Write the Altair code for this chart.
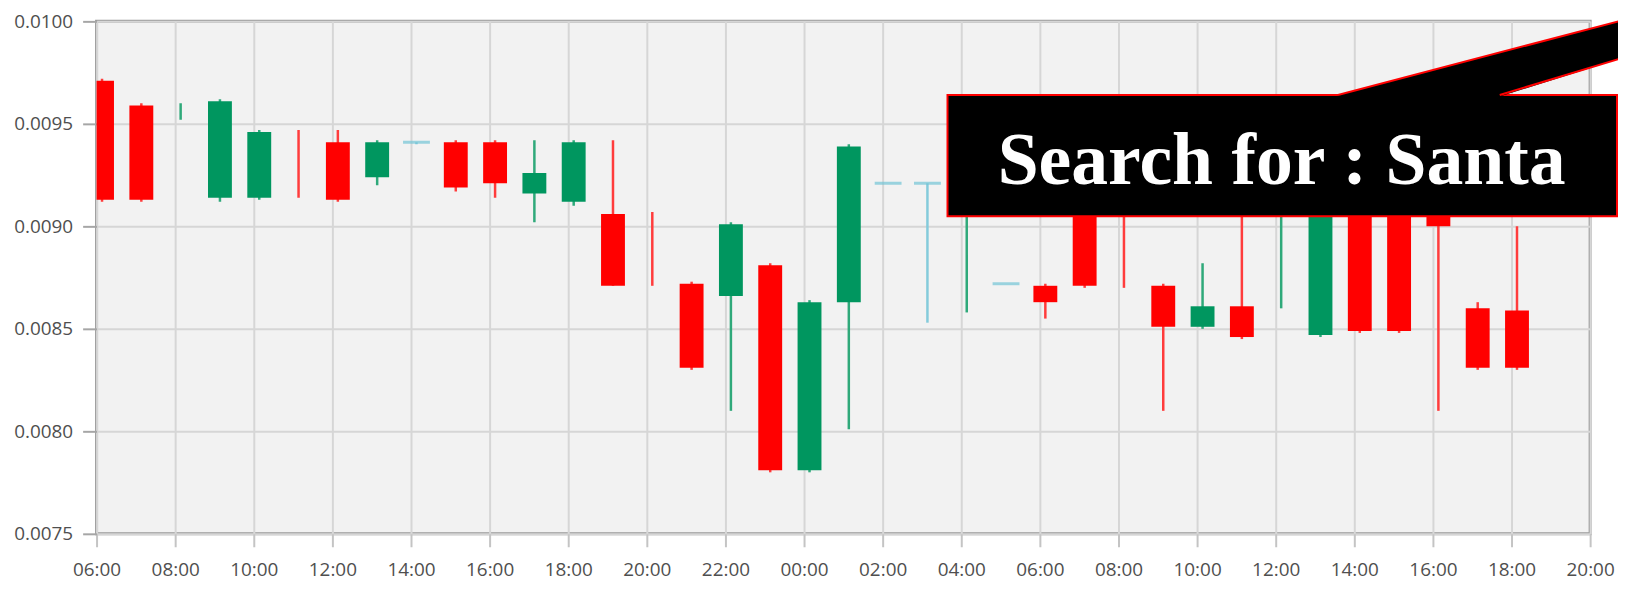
import altair as alt
import pandas as pd

# ---- candle data (hourly) ----
times = [
    "2023-12-24T06:00", "2023-12-24T07:00", "2023-12-24T08:00", "2023-12-24T09:00",
    "2023-12-24T10:00", "2023-12-24T11:00", "2023-12-24T12:00", "2023-12-24T13:00",
    "2023-12-24T14:00", "2023-12-24T15:00", "2023-12-24T16:00", "2023-12-24T17:00",
    "2023-12-24T18:00", "2023-12-24T19:00", "2023-12-24T20:00", "2023-12-24T21:00",
    "2023-12-24T22:00", "2023-12-24T23:00", "2023-12-25T00:00", "2023-12-25T01:00",
    "2023-12-25T02:00", "2023-12-25T03:00", "2023-12-25T04:00", "2023-12-25T05:00",
    "2023-12-25T06:00", "2023-12-25T07:00", "2023-12-25T08:00", "2023-12-25T09:00",
    "2023-12-25T10:00", "2023-12-25T11:00", "2023-12-25T12:00", "2023-12-25T13:00",
    "2023-12-25T14:00", "2023-12-25T15:00", "2023-12-25T16:00", "2023-12-25T17:00",
    "2023-12-25T18:00",
]
opens = [
    0.00971, 0.00959, 0.009559, 0.00914, 0.00914, 0.009300, 0.00941, 0.00924,
    0.00941, 0.00941, 0.00941, 0.00916, 0.00912, 0.00906, 0.008900, 0.00872,
    0.00866, 0.00881, 0.00781, 0.00863, 0.00921, 0.00921, 0.009200, 0.00872,
    0.00871, 0.00925, 0.00915, 0.00871, 0.00851, 0.00861, 0.00905, 0.00847,
    0.00930, 0.00925, 0.00920, 0.00860, 0.00859,
]
highs = [
    0.00972, 0.00960, 0.00960, 0.00962, 0.00947, 0.00947, 0.00947, 0.00942,
    0.00941, 0.00942, 0.00942, 0.00942, 0.00942, 0.00942, 0.00907, 0.00873,
    0.00902, 0.00882, 0.00864, 0.00940, 0.00921, 0.00921, 0.00925, 0.00872,
    0.00872, 0.00930, 0.00925, 0.00872, 0.00882, 0.00915, 0.00920, 0.00940,
    0.00935, 0.00930, 0.00930, 0.00863, 0.00900,
]
lows = [
    0.00912, 0.00912, 0.00952, 0.00912, 0.00913, 0.00914, 0.00912, 0.00920,
    0.00940, 0.00917, 0.00914, 0.00902, 0.00910, 0.00871, 0.00871, 0.00830,
    0.00810, 0.00780, 0.00780, 0.00801, 0.00921, 0.00853, 0.00858, 0.00872,
    0.00855, 0.00870, 0.00870, 0.00810, 0.00850, 0.00845, 0.00860, 0.00846,
    0.00848, 0.00848, 0.00810, 0.00830, 0.00830,
]
closes = [
    0.00913, 0.00913, 0.009560, 0.00961, 0.00946, 0.009299, 0.00913, 0.00941,
    0.00941, 0.00919, 0.00921, 0.00926, 0.00941, 0.00871, 0.008899, 0.00831,
    0.00901, 0.00781, 0.00863, 0.00939, 0.00921, 0.00921, 0.009201, 0.00872,
    0.00863, 0.00871, 0.00905, 0.00851, 0.00861, 0.00846, 0.00915, 0.00935,
    0.00849, 0.00849, 0.00900, 0.00831, 0.00831,
]
y_ticks = [0.0075, 0.0080, 0.0085, 0.0090, 0.0095, 0.0100]
# x tick positions (day of month, hour)
x_ticks = [
    (24, 6), (24, 8), (24, 10), (24, 12), (24, 14), (24, 16), (24, 18), (24, 20),
    (24, 22), (25, 0), (25, 2), (25, 4), (25, 6), (25, 8), (25, 10), (25, 12),
    (25, 14), (25, 16), (25, 18), (25, 20),
]

# ---- callout ----
callout_text = "Search for : Santa"
box_t = ["2023-12-25T03:39", "2023-12-25T20:41"]
box_v = [0.009641, 0.009049]
ptr_t = ["2023-12-25T13:35", "2023-12-25T17:42", "2023-12-25T20:43"]
ptr_top = [0.009641, 0.009848, 0.010000]
ptr_bot = [0.009633, 0.009633, 0.009816]
edge_seg = ["a", "a", "b", "b"]
edge_t = ["2023-12-25T13:35", "2023-12-25T20:43", "2023-12-25T17:42", "2023-12-25T20:43"]
edge_v = [0.009641, 0.010000, 0.009641, 0.009816]
text_t = ["2023-12-25T12:09"]
text_v = [0.009209]

UP, DOWN, FLAT = "#00965f", "#ff0000", "#74c4d6"
UPW, DOWNW, FLATW = "#2fa97a", "#ff3c3c", "#84cbdb"

df = pd.DataFrame({"t": times, "open": opens, "high": highs, "low": lows, "close": closes})
df["body_color"] = [UP if c > o else (DOWN if c < o else FLAT) for o, c in zip(opens, closes)]
df["wick_color"] = [UPW if c > o else (DOWNW if c < o else FLATW) for o, c in zip(opens, closes)]

x_scale = alt.Scale(domain=[alt.DateTime(year=2023, month=12, date=24, hours=6),
                            alt.DateTime(year=2023, month=12, date=25, hours=20)],
                    nice=False, padding=0)
y_scale = alt.Scale(domain=[0.0075, 0.0100], zero=False, nice=False, padding=0)

x_axis = alt.Axis(format="%H:%M",
                  values=[alt.DateTime(year=2023, month=12, date=d, hours=h) for d, h in x_ticks],
                  labelFlush=False, labelOverlap=False, title=None,
                  tickSize=13, tickColor="#c4c4c4", tickWidth=2, labelPadding=14,
                  domain=False)
y_axis = alt.Axis(values=y_ticks, format=".4f", title=None, tickSize=14,
                  tickColor="#a6a6a6", tickWidth=2, labelPadding=10, domain=False)


def X(field):
    return alt.X(field, scale=x_scale, axis=x_axis)


def Y(field):
    return alt.Y(field, scale=y_scale, axis=y_axis)


base = alt.Chart(df)

wicks = base.mark_rule(strokeWidth=2.5, xOffset=5.5, clip=True).encode(
    x=X("t:T"), y=Y("low:Q"), y2="high:Q",
    color=alt.Color("wick_color:N", scale=None),
)
bodies = base.transform_filter("abs(datum.close - datum.open) > 0.000005").mark_bar(
    size=24, xOffset=5.5, clip=True
).encode(
    x=X("t:T"), y=Y("open:Q"), y2="close:Q",
    color=alt.Color("body_color:N", scale=None),
)
dojis = base.transform_filter("datum.open == datum.close").mark_tick(
    orient="horizontal", size=27, thickness=3, xOffset=5.5, clip=True
).encode(
    x=X("t:T"), y=Y("open:Q"),
    color=alt.Color("body_color:N", scale=None),
)

box_df = pd.DataFrame({"t1": [box_t[0]], "t2": [box_t[1]], "v1": [box_v[0]], "v2": [box_v[1]]})
box = alt.Chart(box_df).mark_rect(fill="#000000", stroke="#ff0000", strokeWidth=2).encode(
    x=X("t1:T"), x2="t2:T", y=Y("v1:Q"), y2="v2:Q",
)
ptr_df = pd.DataFrame({"t": ptr_t, "top": ptr_top, "bot": ptr_bot})
pointer = alt.Chart(ptr_df).mark_area(fill="#000000", opacity=1).encode(
    x=X("t:T"), y=Y("top:Q"), y2="bot:Q",
)
edge_df = pd.DataFrame({"seg": edge_seg, "t": edge_t, "v": edge_v})
edges = alt.Chart(edge_df).mark_line(color="#ff0000", strokeWidth=2).encode(
    x=X("t:T"), y=Y("v:Q"), detail="seg:N",
)
text_df = pd.DataFrame({"t": text_t, "v": text_v, "label": [callout_text]})
label = alt.Chart(text_df).mark_text(
    font="Liberation Serif", fontWeight="bold", fontSize=74, color="#ffffff",
    align="center", baseline="alphabetic",
).encode(
    x=X("t:T"), y=Y("v:Q"), text="label:N",
)

chart = alt.layer(wicks, bodies, dojis, box, pointer, edges, label).properties(
    width=1501, height=515,
    autosize=alt.AutoSizeParams(type="none"),
    padding={"left": 89, "top": 12, "right": 28, "bottom": 49},
).configure_view(
    fill="#f2f2f2", stroke="#9b9b9b", strokeWidth=3,
).configure_axis(
    labelFont="Open Sans", labelFontSize=19, labelColor="#4f4f4f",
    gridColor="#d6d6d6", gridWidth=2,
)

chart.save("out.html", embed_options={"renderer": "svg", "actions": False})
